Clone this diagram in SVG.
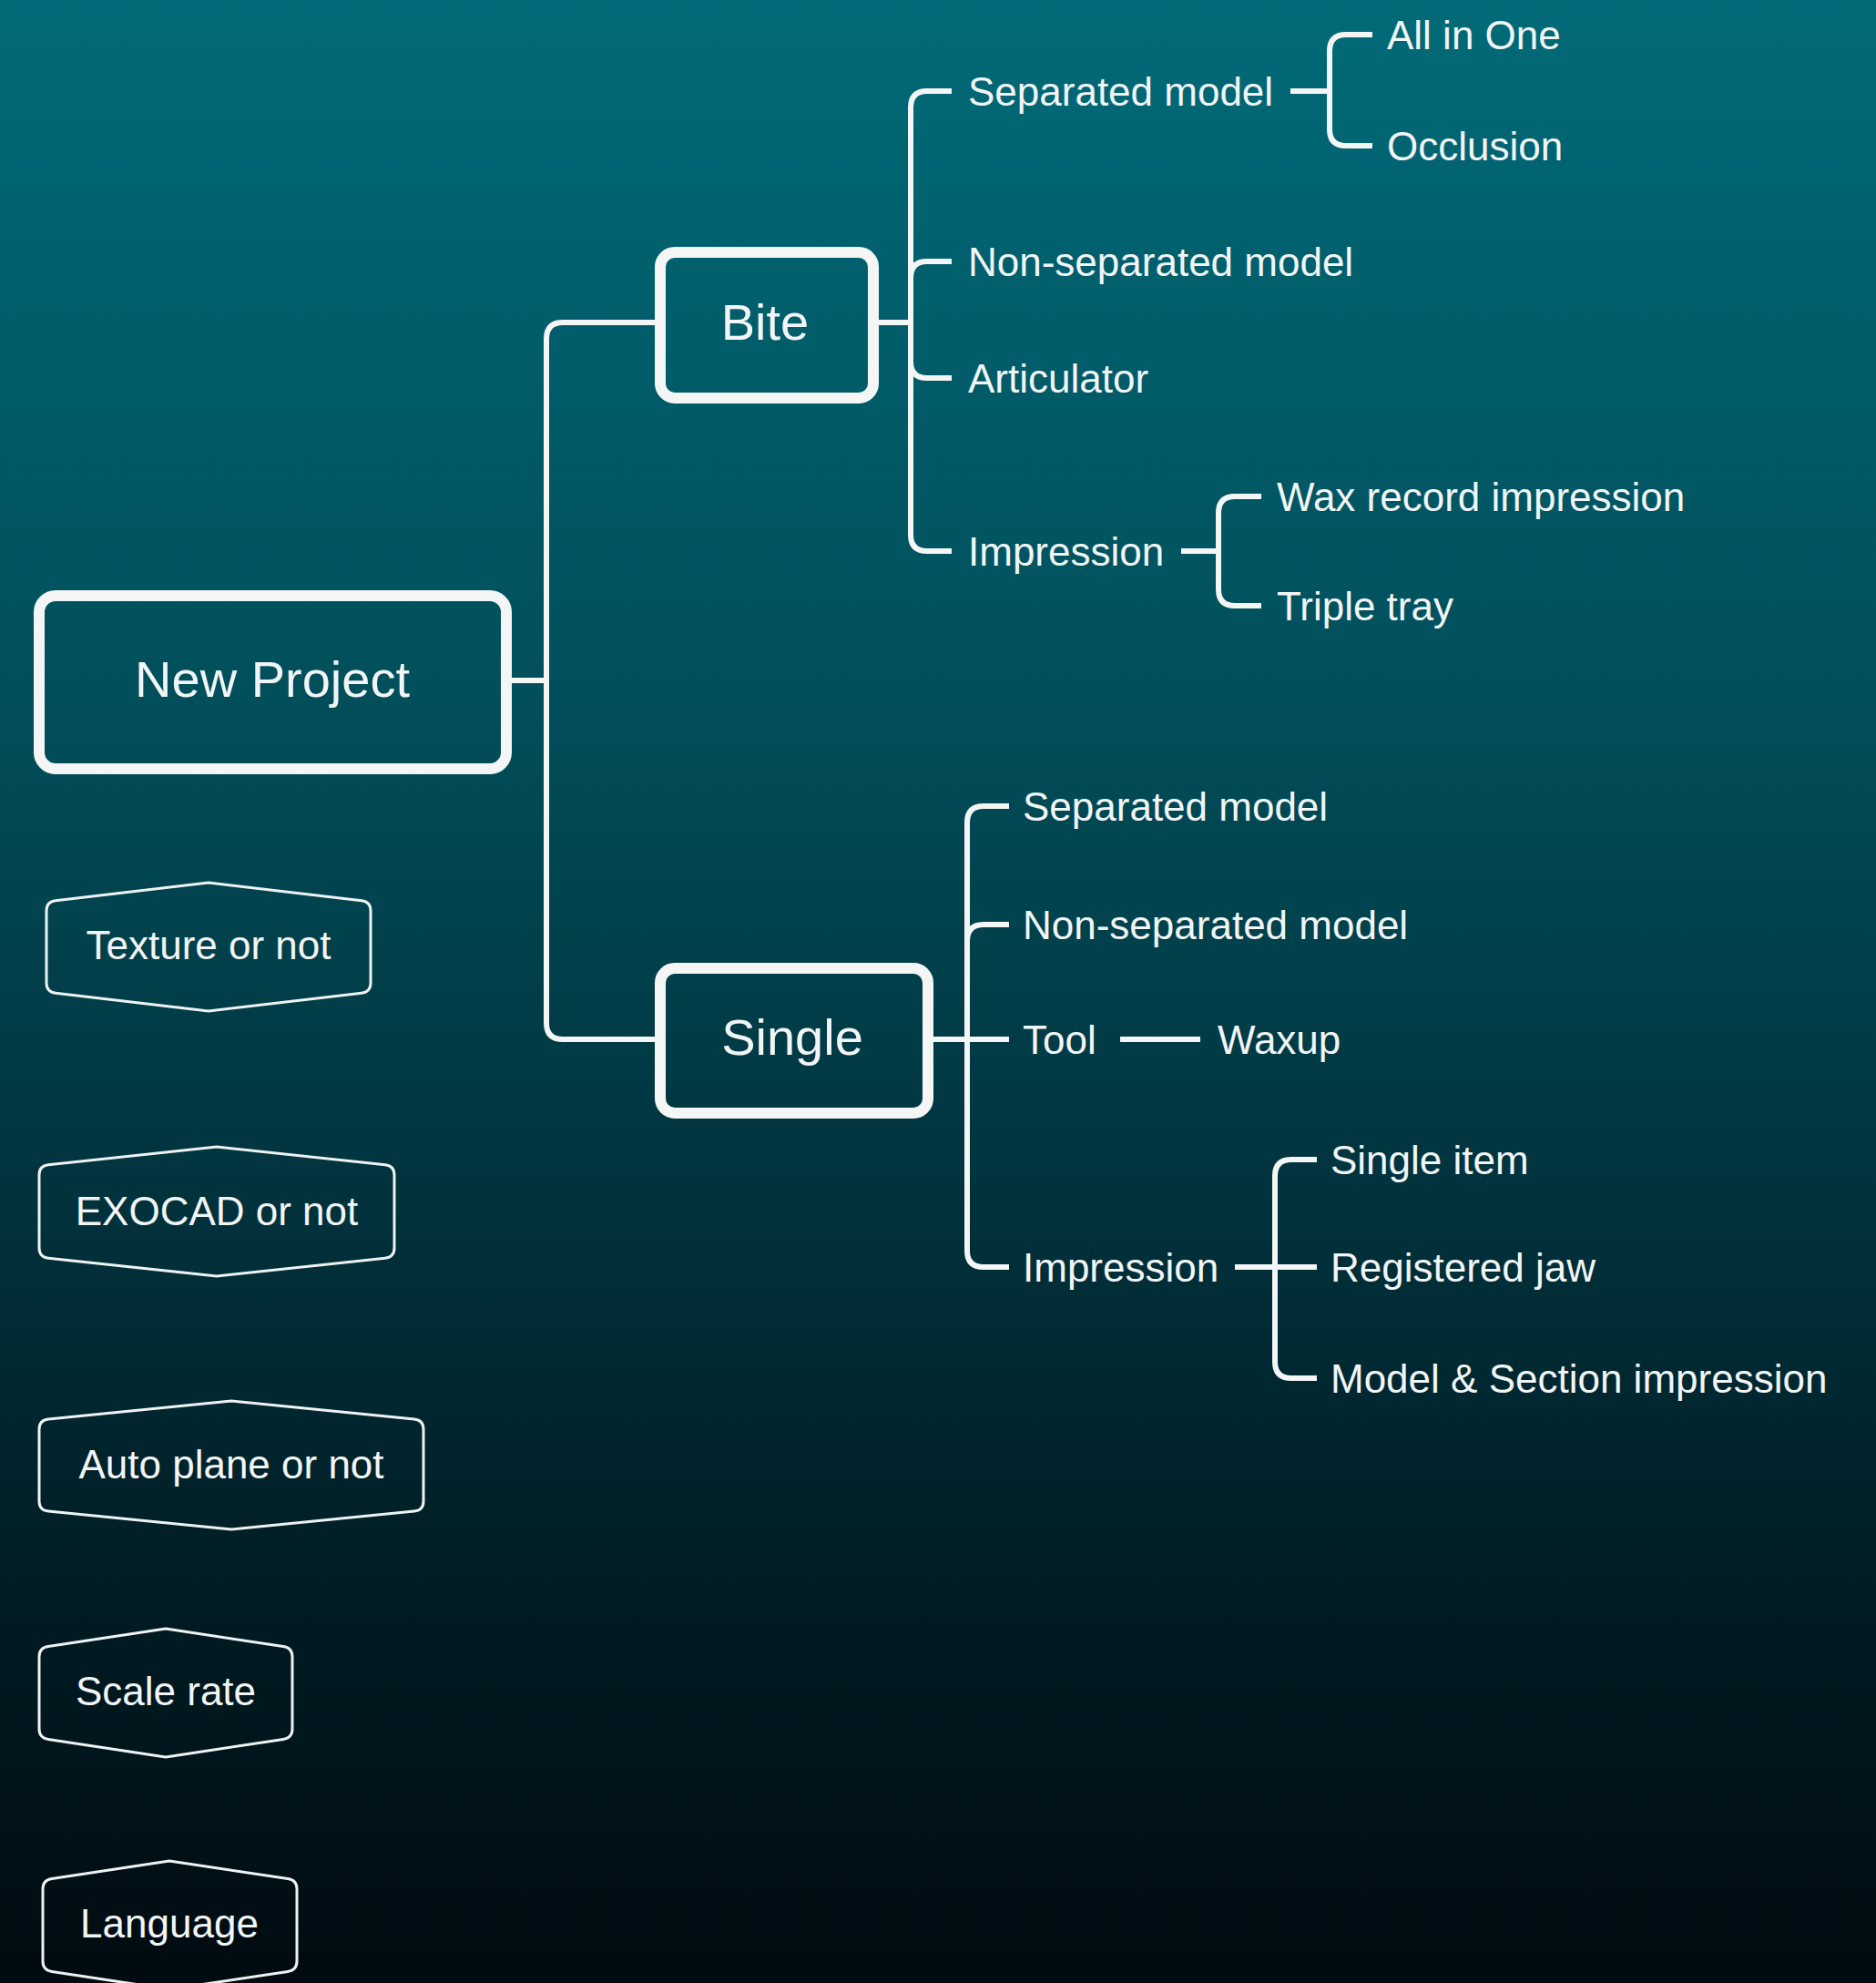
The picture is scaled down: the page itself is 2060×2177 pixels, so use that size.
<svg xmlns="http://www.w3.org/2000/svg" width="2060" height="2177" viewBox="0 0 2060 2177">
  <defs>
    <linearGradient id="bg" x1="0" y1="0" x2="0" y2="1">
      <stop offset="0" stop-color="#026a78"/>
      <stop offset="0.35" stop-color="#014f5b"/>
      <stop offset="0.6" stop-color="#01333d"/>
      <stop offset="0.8" stop-color="#011c24"/>
      <stop offset="1" stop-color="#010b11"/>
    </linearGradient>
  </defs>
  <style>
    .main { fill: none; stroke: #f4f6f6; stroke-width: 12; }
    .hex { fill: none; stroke: #eef2f2; stroke-width: 3; stroke-linejoin: round; }
    .conn { fill: none; stroke: #f4f6f6; stroke-width: 6; }
    .big { font-family: "Liberation Sans", Arial, sans-serif; font-size: 56px; fill: #f2f5f5; text-anchor: middle; }
    .hext { font-family: "Liberation Sans", Arial, sans-serif; font-size: 44px; fill: #f2f5f5; text-anchor: middle; }
    .lbl { font-family: "Liberation Sans", Arial, sans-serif; font-size: 44px; fill: #f2f5f5; }
  </style>
  <rect x="0" y="0" width="2060" height="2177" fill="url(#bg)"/>

  <g id="connectors">
    <path class="conn" d="M562,747 H600"/>
    <path class="conn" d="M719,354 H618 Q600,354 600,372 V1123 Q600,1141 618,1141 H719"/>
    <!-- Bite branch -->
    <path class="conn" d="M965,354 H1000"/>
    <path class="conn" d="M1045,100 H1018 Q1000,100 1000,118 V587 Q1000,605 1018,605 H1045"/>
    <path class="conn" d="M1045,287 H1018 Q1000,287 1000,305"/>
    <path class="conn" d="M1045,415 H1018 Q1000,415 1000,397"/>
    <path class="conn" d="M1417,100 H1460"/>
    <path class="conn" d="M1507,38 H1478 Q1460,38 1460,56 V142 Q1460,160 1478,160 H1507"/>
    <path class="conn" d="M1297,605 H1338"/>
    <path class="conn" d="M1385,545 H1356 Q1338,545 1338,563 V647 Q1338,665 1356,665 H1385"/>
    <!-- Single branch -->
    <path class="conn" d="M1025,1141 H1108"/>
    <path class="conn" d="M1108,885 H1080 Q1062,885 1062,903 V1373 Q1062,1391 1080,1391 H1108"/>
    <path class="conn" d="M1108,1015 H1080 Q1062,1015 1062,1033"/>
    <path class="conn" d="M1230,1141 H1318"/>
    <path class="conn" d="M1356,1391 H1446"/>
    <path class="conn" d="M1446,1273 H1418 Q1400,1273 1400,1291 V1495 Q1400,1513 1418,1513 H1446"/>
  </g>

  <g id="new-project">
    <rect class="main" x="43" y="654" width="513" height="190" rx="18"/>
    <text class="big" x="299" y="765">New Project</text>
  </g>
  <g id="bite">
    <rect class="main" x="725" y="277" width="234" height="160" rx="16"/>
    <text class="big" x="840" y="373">Bite</text>
  </g>
  <g id="single">
    <rect class="main" x="725" y="1063" width="294" height="159" rx="16"/>
    <text class="big" x="870" y="1158">Single</text>
  </g>

  <g id="bite-separated"><text class="lbl" x="1063" y="116">Separated model</text></g>
  <g id="bite-allinone"><text class="lbl" x="1523" y="54">All in One</text></g>
  <g id="bite-occlusion"><text class="lbl" x="1523" y="176">Occlusion</text></g>
  <g id="bite-nonseparated"><text class="lbl" x="1063" y="303">Non-separated model</text></g>
  <g id="bite-articulator"><text class="lbl" x="1063" y="431">Articulator</text></g>
  <g id="bite-impression"><text class="lbl" x="1063" y="621">Impression</text></g>
  <g id="bite-wax"><text class="lbl" x="1402" y="561">Wax record impression</text></g>
  <g id="bite-triple"><text class="lbl" x="1402" y="681">Triple tray</text></g>

  <g id="single-separated"><text class="lbl" x="1123" y="901">Separated model</text></g>
  <g id="single-nonseparated"><text class="lbl" x="1123" y="1031">Non-separated model</text></g>
  <g id="single-tool"><text class="lbl" x="1123" y="1157">Tool</text></g>
  <g id="single-waxup"><text class="lbl" x="1337" y="1157">Waxup</text></g>
  <g id="single-impression"><text class="lbl" x="1123" y="1407">Impression</text></g>
  <g id="single-item"><text class="lbl" x="1461" y="1289">Single item</text></g>
  <g id="single-registered"><text class="lbl" x="1461" y="1407">Registered jaw</text></g>
  <g id="single-model-section"><text class="lbl" x="1461" y="1529">Model &amp; Section impression</text></g>

  <g id="texture">
    <path class="hex" d="M229,969 L397,988.8 Q407,990 407,1000 L407,1079 Q407,1089 397,1090.2 L229,1110 L61,1090.2 Q51,1089 51,1079 L51,1000 Q51,990 61,988.8 Z"/>
    <text class="hext" x="229" y="1053">Texture or not</text>
  </g>
  <g id="exocad">
    <path class="hex" d="M238,1259 L423,1278.8 Q433,1280 433,1290 L433,1370 Q433,1380 423,1381.2 L238,1401 L53,1381.2 Q43,1380 43,1370 L43,1290 Q43,1280 53,1278.8 Z"/>
    <text class="hext" x="238" y="1345">EXOCAD or not</text>
  </g>
  <g id="autoplane">
    <path class="hex" d="M254,1538 L455,1557.9 Q465,1559 465,1569 L465,1648 Q465,1658 455,1659.1 L254,1679 L53,1659.1 Q43,1658 43,1648 L43,1569 Q43,1559 53,1557.9 Z"/>
    <text class="hext" x="254" y="1623">Auto plane or not</text>
  </g>
  <g id="scalerate">
    <path class="hex" d="M182,1788 L311,1807.6 Q321,1809 321,1819 L321,1898 Q321,1908 311,1909.4 L182,1929 L53,1909.4 Q43,1908 43,1898 L43,1819 Q43,1809 53,1807.6 Z"/>
    <text class="hext" x="182" y="1872">Scale rate</text>
  </g>
  <g id="language">
    <path class="hex" d="M186,2043 L316,2062.6 Q326,2064 326,2074 L326,2153 Q326,2163 316,2164.4 L186,2184 L57,2164.4 Q47,2163 47,2153 L47,2074 Q47,2064 57,2062.6 Z"/>
    <text class="hext" x="186" y="2127">Language</text>
  </g>
</svg>
